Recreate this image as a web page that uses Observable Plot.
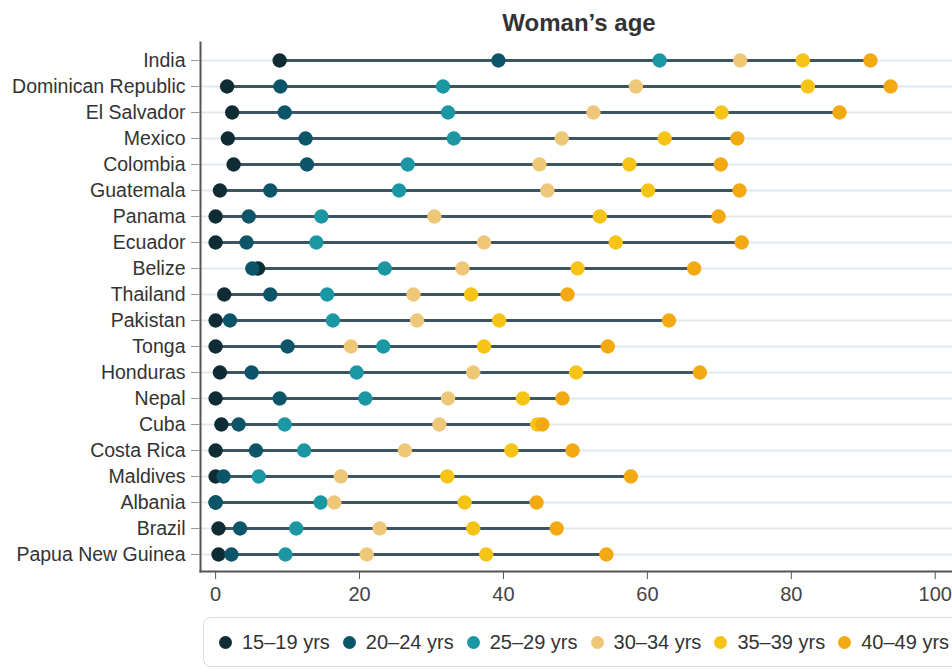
<!DOCTYPE html>
<html>
<head>
<meta charset="utf-8">
<script src="https://cdn.jsdelivr.net/npm/d3@7"></script>
<script src="https://cdn.jsdelivr.net/npm/@observablehq/plot@0.6"></script>
<style>
  html, body { margin: 0; padding: 0; background: #fff; }
  body { width: 952px; height: 669px; overflow: hidden; font-family: "Liberation Sans", Arial, Helvetica, sans-serif; position: relative; }
  #title { position: absolute; left: 200px; top: 8px; width: 758px; text-align: center; font-weight: bold; font-size: 24px; color: #333; line-height: 30px; }
  #chart { position: absolute; left: 0; top: 36px; }
  #legend { position: absolute; left: 203px; top: 617px; width: 800px; height: 50px; border: 1px solid #dcdcdc; border-radius: 8px; box-sizing: border-box; display: flex; align-items: center; padding-left: 15px; }
  .item { display: flex; align-items: center; margin-right: 13px; }
  .sw { width: 13px; height: 13px; border-radius: 50%; margin-right: 10px; }
  .lab { font-size: 20px; color: #333; white-space: nowrap; }
</style>
</head>
<body>
<div id="title">Woman’s age</div>
<div id="chart"></div>
<div id="legend"></div>
<script>
const countries = ["India","Dominican Republic","El Salvador","Mexico","Colombia","Guatemala","Panama","Ecuador","Belize","Thailand","Pakistan","Tonga","Honduras","Nepal","Cuba","Costa Rica","Maldives","Albania","Brazil","Papua New Guinea"];
const groups = ["15–19 yrs","20–24 yrs","25–29 yrs","30–34 yrs","35–39 yrs","40–49 yrs"];
const colors = ["#0f2c34","#0c5468","#1a97a3","#efc779","#f6c417","#f2a912"];
const a15 = [8.9,1.6,2.3,1.7,2.5,0.6,0.0,0.0,5.9,1.2,0.0,0.0,0.6,0.0,0.8,0.0,0.0,0.0,0.4,0.4];
const a20 = [39.3,9.0,9.6,12.5,12.7,7.6,4.6,4.3,5.1,7.6,2.0,10.0,5.0,8.9,3.2,5.6,1.1,0.0,3.4,2.2];
const a25 = [61.7,31.6,32.3,33.1,26.7,25.5,14.7,14.0,23.5,15.5,16.3,23.3,19.6,20.8,9.6,12.3,6.0,14.6,11.2,9.7];
const a30 = [72.9,58.4,52.5,48.1,45.0,46.1,30.4,37.3,34.3,27.5,28.0,18.8,35.8,32.3,31.1,26.3,17.4,16.5,22.8,21.0];
const a35 = [81.6,82.3,70.3,62.4,57.5,60.1,53.4,55.6,50.3,35.5,39.4,37.3,50.1,42.7,44.7,41.1,32.2,34.6,35.8,37.6];
const a40 = [91.0,93.8,86.7,72.5,70.2,72.8,69.9,73.1,66.5,48.9,63.0,54.5,67.3,48.2,45.4,49.6,57.7,44.6,47.4,54.3];
const xTicks = [0,20,40,60,80,100];

const series = [a15,a20,a25,a30,a35,a40];
const points = [];
series.forEach((arr, gi) => arr.forEach((v, ci) => points.push({country: countries[ci], group: groups[gi], value: v})));
const ranges = countries.map((c, i) => {
  const vals = series.map(s => s[i]);
  return {country: c, lo: d3.min(vals), hi: d3.max(vals)};
});

const plot = Plot.plot({
  width: 952,
  height: 575,
  marginLeft: 200,
  marginRight: 0,
  marginTop: 6,
  marginBottom: 40,
  style: {fontFamily: '"Liberation Sans", Arial, Helvetica, sans-serif', background: "#fff"},
  x: {domain: [-2.1, 102.4], label: null},
  y: {domain: countries, type: "point", padding: 0.65, label: null},
  color: {domain: groups, range: colors},
  marks: [
    Plot.ruleY(countries, {stroke: "#e2eaf0", strokeWidth: 2}),
    Plot.ruleY(ranges, {y: "country", x1: "lo", x2: "hi", stroke: "#3d5462", strokeWidth: 3}),
    Plot.dot(points, {x: "value", y: "country", fill: "group", r: 7.2, stroke: "none"}),
    Plot.frame({anchor: "left", stroke: "#555", strokeWidth: 2}),
    Plot.frame({anchor: "bottom", stroke: "#555", strokeWidth: 2}),
    Plot.axisX({ticks: xTicks, tickSize: 8, tickPadding: 7, fontSize: 20, stroke: "#555", fill: "#444", label: null}),
    Plot.axisY({tickSize: 9, tickPadding: 6, fontSize: 19.5, stroke: "#999", fill: "#333", label: null})
  ]
});
document.getElementById("chart").appendChild(plot);

const leg = document.getElementById("legend");
groups.forEach((g, i) => {
  const it = document.createElement("div");
  it.className = "item";
  it.innerHTML = `<div class="sw" style="background:${colors[i]}"></div><div class="lab">${g}</div>`;
  leg.appendChild(it);
});
</script>
</body>
</html>
